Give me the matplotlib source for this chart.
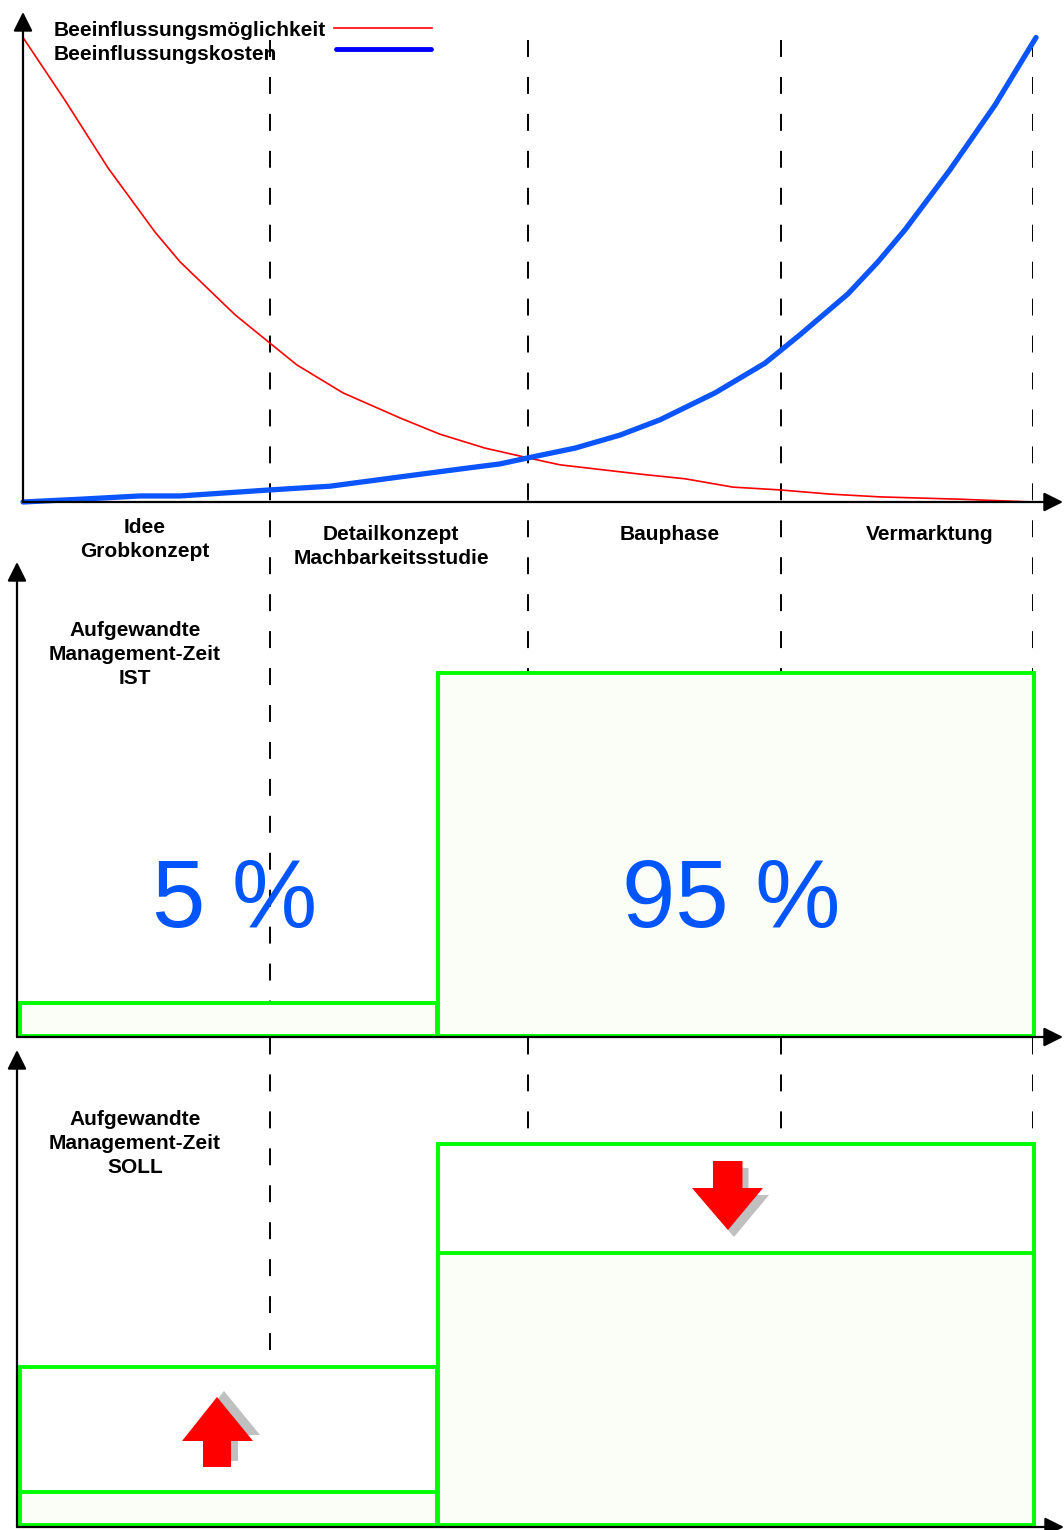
import matplotlib
matplotlib.use("Agg")
import matplotlib.pyplot as plt
from matplotlib.patches import Polygon

plt.rcParams['font.family'] = ['Liberation Sans', 'DejaVu Sans']
plt.rcParams['lines.scale_dashes'] = False

# --- data ---------------------------------------------------------------
# x in "phase units" (0 = project start, 4 = end of Vermarktung)
phase_bounds = [0.98, 2.0, 3.0, 4.0]
phase_labels = [["Idee", "Grobkonzept"],
                ["Detailkonzept", "Machbarkeitsstudie"],
                ["Bauphase"],
                ["Vermarktung"]]

series_names = ["Beeinflussungsmöglichkeit", "Beeinflussungskosten"]

# Beeinflussungsmöglichkeit (%)
x_moeg = [0, 0.166, 0.337, 0.523, 0.622, 0.84, 0.978, 1.085, 1.267, 1.493, 1.651,
          1.83, 2.0, 2.127, 2.444, 2.622, 2.812, 2.998, 3.196, 3.394, 3.711, 4.0]
y_moeg = [100, 86.5, 71.9, 58.1, 51.7, 40.3, 34.2, 29.5, 23.5, 18.1, 14.6,
          11.6, 9.5, 8.0, 6.0, 5.0, 3.2, 2.6, 1.7, 1.1, 0.6, 0]

# Beeinflussungskosten (%)
x_kost = [0, 0.226, 0.463, 0.622, 0.978, 1.216, 1.493, 1.731, 1.889, 2.0, 2.186,
          2.364, 2.523, 2.741, 2.939, 3.077, 3.267, 3.386, 3.493, 3.671, 3.85, 4.012]
y_kost = [0, 0.6, 1.3, 1.3, 2.6, 3.4, 5.4, 7.1, 8.2, 9.5, 11.6,
          14.4, 17.7, 23.5, 29.9, 36.0, 44.8, 51.7, 58.6, 71.5, 85.5, 100]

# management time blocks (left = early phases, right = late phases)
block_left = [-0.01, 1.645]
block_width = [1.648, 2.36]
ist_height = [9, 100]
ist_share = ["5 %", "95 %"]
soll_old = [43.5, 105]
soll_new = [9, 75]

ist_title = "Aufgewandte\nManagement-Zeit\nIST"
soll_title = "Aufgewandte\nManagement-Zeit\nSOLL"

# --- layout -------------------------------------------------------------
W, H = 1064, 1530
fig = plt.figure(figsize=(W / 100, H / 100), dpi=100)
fig.patch.set_facecolor("white")


def px_axes(x0, x1, y0, y1, z):
    ax = fig.add_axes([x0 / W, 1 - y1 / H, (x1 - x0) / W, (y1 - y0) / H])
    ax.set_axis_off()
    ax.set_zorder(z)
    ax.patch.set_visible(False)
    return ax


GREEN = "#00ff00"
FILL = "#fbfdf7"
BLUE_TXT = "#0055ff"
bold = dict(fontsize=15, fontweight="bold", color="black")

# dashed phase separators, behind everything
guide = px_axes(23, 1033, 40, 1527, 0)
guide.set_xlim(0, 4)
guide.set_ylim(0, 1)
for b in phase_bounds:
    guide.plot([b, b], [1, 0], color="black", lw=1.4, dashes=(12.2, 14.4))

# top chart curves
ax1 = px_axes(23, 1033, 37.5, 502, 3)
ax1.set_xlim(0, 4)
ax1.set_ylim(0, 100)
ax1.plot(x_moeg, y_moeg, color="#ff0000", lw=1.2, clip_on=False)
ax1.plot(x_kost, y_kost, color="#0a55ff", lw=3.8, clip_on=False,
         solid_capstyle="round")

# IST panel
ax2 = px_axes(23, 1033, 673, 1036, 1)
ax2.set_xlim(0, 4)
ax2.set_ylim(0, 100)
ax2.bar(block_left, ist_height, width=block_width, align="edge",
        facecolor=FILL, edgecolor=GREEN, lw=2.8, clip_on=False)

# SOLL panel
ax3 = px_axes(23, 1033, 1162, 1525, 1)
ax3.set_xlim(0, 4)
ax3.set_ylim(0, 100)
ax3.bar(block_left, soll_old, width=block_width, align="edge",
        facecolor="white", edgecolor=GREEN, lw=2.8, clip_on=False)
ax3.bar(block_left, soll_new, width=block_width, align="edge",
        facecolor=FILL, edgecolor=GREEN, lw=2.8, clip_on=False)

# overlay in pixel units: axes arrows, texts, change arrows
ov = px_axes(0, W, 0, H, 5)
ov.set_xlim(0, W)
ov.set_ylim(H, 0)


def axis_arrow(x0, y0, x1, y1):
    ov.annotate("", xy=(x1, y1), xytext=(x0, y0),
                arrowprops=dict(arrowstyle="-|>,head_length=0.4,head_width=0.2",
                                mutation_scale=29, lw=1.6, color="black",
                                shrinkA=0, shrinkB=0))


axis_arrow(23, 502, 23, 12)
axis_arrow(23, 502, 1063, 502)
axis_arrow(17, 1037, 17, 562)
axis_arrow(17, 1037, 1063, 1037)
axis_arrow(17, 1527, 17, 1050)
axis_arrow(17, 1527, 1064, 1527)

# legend
ov.text(54, 36, series_names[0], ha="left", va="baseline", **bold)
ov.text(54, 60, series_names[1], ha="left", va="baseline", **bold)
ov.plot([334, 432], [28, 28], color="#ff0000", lw=1.2)
ov.plot([336, 431], [49, 49], color="#0000ff", lw=3.5, solid_capstyle="round")

# phase labels
label_x = [145, 391, 670, 930]
label_base = [533, 540, 540, 540]
for lx, lb, lines in zip(label_x, label_base, phase_labels):
    for i, line in enumerate(lines):
        ov.text(lx, lb + 24 * i, line, ha="center", va="baseline", **bold)

# panel titles
for base, title in [(636, ist_title), (1125, soll_title)]:
    for i, line in enumerate(title.split("\n")):
        ov.text(135, base + 24 * i, line, ha="center", va="baseline", **bold)

# shares
for cx, s in zip([235, 731], ist_share):
    ov.text(cx, 927, s, ha="center", va="baseline", fontsize=69, color=BLUE_TXT)

# change arrows with shadow
down = [(713, 1161), (742.5, 1161), (742.5, 1188), (763, 1188), (728, 1230),
        (692, 1188), (713, 1188)]
up = [(217, 1397), (253, 1441), (231, 1441), (231, 1467), (203, 1467),
      (203, 1441), (182, 1441)]
for pts, (dx, dy) in [(down, (6, 7)), (up, (7, -6))]:
    ov.add_patch(Polygon([(x + dx, y + dy) for x, y in pts], closed=True,
                         facecolor="#c0c0c0", edgecolor="none"))
    ov.add_patch(Polygon(pts, closed=True, facecolor="#ff0000", edgecolor="none"))

fig.savefig("out.png", dpi=100, facecolor="white")
